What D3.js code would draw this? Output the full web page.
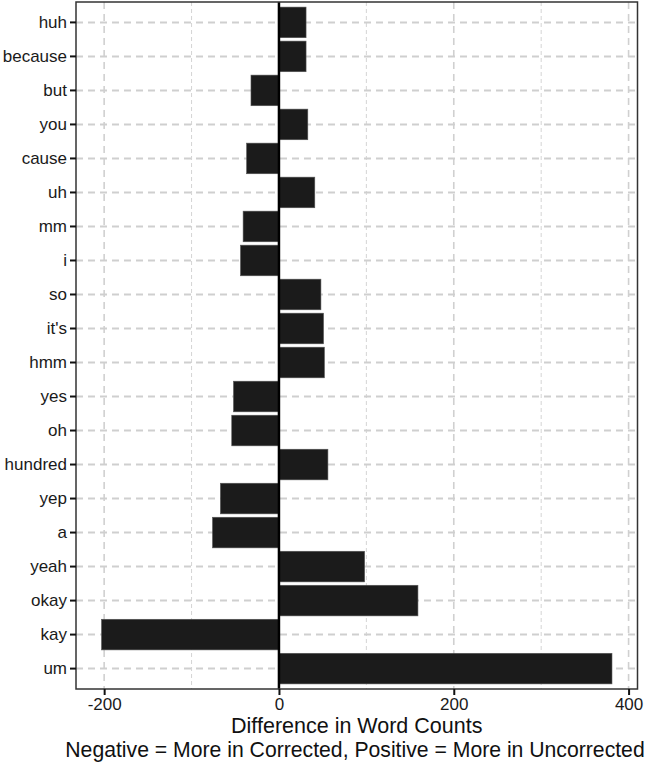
<!DOCTYPE html>
<html>
<head>
<meta charset="utf-8">
<script src="https://cdn.jsdelivr.net/npm/d3@7"></script>
<style>
	body { margin: 0; background: #fff; }
	svg { display: block; font-family: "Liberation Sans", Arial, Helvetica, sans-serif; }
</style>
</head>
<body>
<div id="chart"></div>
<script>
// words, top to bottom
var words = ["huh", "because", "but", "you", "cause", "uh", "mm", "i", "so", "it's",
	"hmm", "yes", "oh", "hundred", "yep", "a", "yeah", "okay", "kay", "um"];
// uncorrected minus corrected
var diffs = [31, 31, -32, 33, -37, 41, -41, -44, 48, 51,
	52, -52, -54, 56, -67, -76, 98, 159, -203, 381];
var majorTicks = [-200, 0, 200, 400];
var minorTicks = [-100, 100, 300];
var xTitle = "Difference in Word Counts";
var xSubtitle = "Negative = More in Corrected, Positive = More in Uncorrected";

var width = 649, height = 764;
var margin = { top: 2, right: 11.5, bottom: 75, left: 76 };

var data = words.map(function (w, i) {
	return { word: w, value: diffs[i] };
});

var svg = d3.select("#chart").append("svg")
	.attr("width", width)
	.attr("height", height);

var lo = d3.min(diffs), hi = d3.max(diffs);
var pad = (hi - lo) * 0.05;

var x = d3.scaleLinear()
	.domain([lo - pad, hi + pad])
	.range([margin.left, width - margin.right]);

var y = d3.scaleBand()
	.domain(words)
	.range([margin.top, height - margin.bottom])
	.paddingInner(0.1)
	.paddingOuter(0.15);

var grid = svg.append("g").attr("class", "grid");

// minor vertical lines
grid.selectAll("line.minor")
	.data(minorTicks)
	.enter().append("line")
	.attr("class", "minor")
	.attr("x1", function (d) { return x(d); })
	.attr("x2", function (d) { return x(d); })
	.attr("y1", margin.top)
	.attr("y2", height - margin.bottom)
	.attr("stroke", "#d4d4d4")
	.attr("stroke-width", 1)
	.attr("stroke-dasharray", "4,3");

// major vertical lines
grid.selectAll("line.major")
	.data(majorTicks)
	.enter().append("line")
	.attr("class", "major")
	.attr("x1", function (d) { return x(d); })
	.attr("x2", function (d) { return x(d); })
	.attr("y1", margin.top)
	.attr("y2", height - margin.bottom)
	.attr("stroke", "#d0d0d0")
	.attr("stroke-width", 1.6)
	.attr("stroke-dasharray", "7,5");

// horizontal lines per word
grid.selectAll("line.h")
	.data(words)
	.enter().append("line")
	.attr("class", "h")
	.attr("x1", margin.left)
	.attr("x2", width - margin.right)
	.attr("y1", function (d) { return y(d) + y.bandwidth() / 2; })
	.attr("y2", function (d) { return y(d) + y.bandwidth() / 2; })
	.attr("stroke", "#cfcfcf")
	.attr("stroke-width", 2)
	.attr("stroke-dasharray", "7,5");

svg.append("g").selectAll("rect")
	.data(data)
	.enter().append("rect")
	.attr("x", function (d) { return x(Math.min(0, d.value)); })
	.attr("width", function (d) { return Math.abs(x(d.value) - x(0)); })
	.attr("y", function (d) { return y(d.word); })
	.attr("height", y.bandwidth())
	.attr("fill", "#1b1b1b")
	.attr("stroke", "#555")
	.attr("stroke-width", 0.6);

// zero line
svg.append("line")
	.attr("x1", x(0)).attr("x2", x(0))
	.attr("y1", margin.top).attr("y2", height - margin.bottom)
	.attr("stroke", "#000")
	.attr("stroke-width", 2.5);

// panel border
svg.append("rect")
	.attr("x", margin.left)
	.attr("y", margin.top)
	.attr("width", width - margin.right - margin.left)
	.attr("height", height - margin.bottom - margin.top)
	.attr("fill", "none")
	.attr("stroke", "#333")
	.attr("stroke-width", 1.5);

var xAxis = svg.append("g")
	.attr("transform", "translate(0," + (height - margin.bottom) + ")")
	.call(d3.axisBottom(x).tickValues(majorTicks).tickSize(6).tickPadding(3).tickFormat(d3.format("d")));
xAxis.select(".domain").remove();
xAxis.selectAll(".tick line").attr("stroke", "#111").attr("stroke-width", 2);
xAxis.selectAll(".tick text")
	.attr("fill", "#1a1a1a")
	.style("font-size", "17px")
	.style("font-family", "Liberation Sans, Arial, sans-serif")
	.text(function (d) { return d < 0 ? "-" + Math.abs(d) : d; });

var yAxis = svg.append("g")
	.attr("transform", "translate(" + margin.left + ",0)")
	.call(d3.axisLeft(y).tickSize(6).tickPadding(3));
yAxis.select(".domain").remove();
yAxis.selectAll(".tick line").attr("stroke", "#111").attr("stroke-width", 2);
yAxis.selectAll(".tick text")
	.attr("fill", "#1a1a1a")
	.style("font-size", "17px")
	.style("font-family", "Liberation Sans, Arial, sans-serif");

var cx = (margin.left + width - margin.right) / 2;
svg.append("text")
	.attr("x", cx)
	.attr("y", 733)
	.attr("text-anchor", "middle")
	.attr("fill", "#111")
	.style("font-size", "21.5px")
	.text(xTitle);
svg.append("text")
	.attr("x", 355)
	.attr("y", 757)
	.attr("text-anchor", "middle")
	.attr("fill", "#111")
	.style("font-size", "21.2px")
	.text(xSubtitle);
</script>
</body>
</html>
